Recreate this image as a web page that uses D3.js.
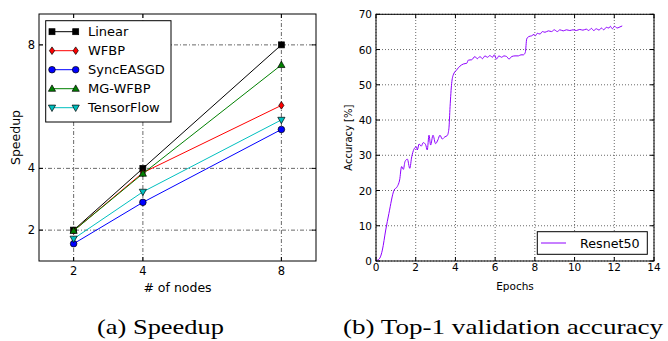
<!DOCTYPE html>
<html>
<head>
<meta charset="utf-8">
<script src="https://cdn.jsdelivr.net/npm/d3@7"></script>
<style>
  html, body { margin: 0; padding: 0; background: white; }
  svg { display: block; }
  text { font-family: "DejaVu Sans", sans-serif; fill: black; }
  text.caption { font-family: "Liberation Serif", serif; }
</style>
</head>
<body>
<div id="chart"></div>
<script>
// (a) speedup data
const nodes = [2, 4, 8];
const seriesNames = ["Linear", "WFBP", "SyncEASGD", "MG-WFBP", "TensorFlow"];
const linear = [2, 4, 8];
const wfbp = [1.98, 3.86, 6.04];
const syncEasgd = [1.56, 2.9, 5.26];
const mgWfbp = [1.98, 3.83, 7.35];
const tensorflow = [1.72, 3.24, 5.57];
const speedTicks = [2, 4, 8];

// (b) validation accuracy data
const epochs = [0.05, 0.19, 0.32, 0.49, 0.65, 0.91, 1.07, 1.19, 1.29, 1.38, 1.46, 1.58, 1.70, 1.80, 1.91,
  2.03, 2.08, 2.17, 2.28, 2.38, 2.50, 2.58, 2.67, 2.75, 2.87, 3.00, 3.12, 3.22, 3.34, 3.46, 3.59,
  3.67, 3.73, 3.81, 3.89, 4.06, 4.23, 4.40, 4.57, 4.65, 4.82, 4.98, 5.10, 5.24, 5.36, 5.49, 5.61,
  5.74, 5.86, 5.96, 6.07, 6.19, 6.33, 6.44, 6.58, 6.70, 6.83, 7.00, 7.17, 7.30, 7.42, 7.52, 7.59,
  7.70, 7.84, 7.96, 8.03, 8.12, 8.26, 8.38, 8.51, 8.68, 8.84, 8.98, 9.13, 9.26, 9.43, 9.59, 9.76,
  9.92, 10.09, 10.26, 10.42, 10.59, 10.71, 10.85, 10.96, 11.10, 11.23, 11.35, 11.47, 11.60, 11.73,
  11.80, 11.90, 12.02, 12.14, 12.24, 12.40];
const accuracy = [0.2, 0.8, 3.1, 8.8, 13.5, 20.1, 21.1, 23.0, 26.8, 26.0, 28.2, 28.9, 26.3, 29.6, 31.7,
  32.4, 31.5, 33.2, 32.6, 33.6, 33.0, 31.5, 35.7, 32.9, 35.7, 33.3, 34.4, 35.7, 34.6, 35.2, 35.6,
  37.5, 43.8, 50.4, 52.8, 54.2, 55.3, 55.9, 56.1, 57.0, 57.1, 58.0, 57.4, 58.0, 57.4, 58.2, 57.8,
  58.3, 57.8, 58.5, 57.3, 58.2, 57.8, 58.2, 58.0, 57.3, 58.0, 58.2, 58.2, 58.5, 58.5, 59.2, 63.0,
  63.7, 63.9, 64.3, 63.9, 64.6, 64.4, 65.1, 64.9, 65.3, 65.1, 65.6, 65.1, 65.6, 65.3, 65.6, 65.4,
  65.6, 65.4, 65.7, 65.5, 65.8, 65.4, 66.0, 65.4, 65.9, 65.5, 66.1, 65.6, 66.3, 66.1,
  66.6, 65.9, 66.6, 66.1, 66.3, 66.7];
const epochTicks = [0, 2, 4, 6, 8, 10, 12, 14];
const accTicks = [0, 10, 20, 30, 40, 50, 60, 70];

const W = 668, H = 341;
const svg = d3.select("#chart").append("svg").attr("width", W).attr("height", H);

// ---------- helpers ----------
function frame(g, x, y, xt, yt, gridDash) {
  const [x0, x1] = x.range(), [y0, y1] = y.range();
  // grid
  g.selectAll(null).data(xt).join("line")
    .attr("x1", d => x(d)).attr("x2", d => x(d)).attr("y1", y0).attr("y2", y1)
    .attr("stroke", "#444").attr("stroke-width", 0.8).attr("stroke-dasharray", gridDash);
  g.selectAll(null).data(yt).join("line")
    .attr("y1", d => y(d)).attr("y2", d => y(d)).attr("x1", x0).attr("x2", x1)
    .attr("stroke", "#444").attr("stroke-width", 0.8).attr("stroke-dasharray", gridDash);
  // inward ticks, all four sides
  const t = 4;
  xt.forEach(d => {
    g.append("line").attr("x1", x(d)).attr("x2", x(d)).attr("y1", y0).attr("y2", y0 - t).attr("stroke", "black");
    g.append("line").attr("x1", x(d)).attr("x2", x(d)).attr("y1", y1).attr("y2", y1 + t).attr("stroke", "black");
  });
  yt.forEach(d => {
    g.append("line").attr("y1", y(d)).attr("y2", y(d)).attr("x1", x0).attr("x2", x0 + t).attr("stroke", "black");
    g.append("line").attr("y1", y(d)).attr("y2", y(d)).attr("x1", x1).attr("x2", x1 - t).attr("stroke", "black");
  });
}

function border(g, x, y) {
  const [x0, x1] = x.range(), [y0, y1] = y.range();
  g.append("rect").attr("x", x0).attr("y", y1).attr("width", x1 - x0).attr("height", y0 - y1)
    .attr("fill", "none").attr("stroke", "black").attr("stroke-width", 1);
}

function marker(g, kind, cx, cy, fill) {
  let el;
  if (kind === "s") {
    el = g.append("rect").attr("x", cx - 3).attr("y", cy - 3).attr("width", 6).attr("height", 6);
  } else if (kind === "o") {
    el = g.append("circle").attr("cx", cx).attr("cy", cy).attr("r", 3.3);
  } else if (kind === "d") {
    el = g.append("path").attr("d", `M${cx},${cy - 3.8}L${cx + 2.6},${cy}L${cx},${cy + 3.8}L${cx - 2.6},${cy}Z`);
  } else if (kind === "^") {
    el = g.append("path").attr("d", `M${cx},${cy - 3.8}L${cx + 3.6},${cy + 2.6}L${cx - 3.6},${cy + 2.6}Z`);
  } else {
    el = g.append("path").attr("d", `M${cx},${cy + 3.8}L${cx + 3.6},${cy - 2.6}L${cx - 3.6},${cy - 2.6}Z`);
  }
  el.attr("fill", fill).attr("stroke", "black").attr("stroke-width", 0.7);
}

// ---------- (a) Speedup ----------
const ga = svg.append("g");
const xa = d3.scaleLinear().domain([1, 9]).range([39, 316]);
const ya = d3.scaleLinear().domain([1, 9]).range([261, 14]);
frame(ga, xa, ya, speedTicks, speedTicks, "4,2,1,2");

const series = [
  { name: seriesNames[0], vals: linear, color: "#000000", m: "s" },
  { name: seriesNames[1], vals: wfbp, color: "#ff0000", m: "d" },
  { name: seriesNames[2], vals: syncEasgd, color: "#0000ff", m: "o" },
  { name: seriesNames[3], vals: mgWfbp, color: "#008000", m: "^" },
  { name: seriesNames[4], vals: tensorflow, color: "#00bfbf", m: "v" }
];
const lineA = d3.line().x((d, i) => xa(nodes[i])).y(d => ya(d));
series.forEach(s => {
  ga.append("path").attr("d", lineA(s.vals)).attr("fill", "none")
    .attr("stroke", s.color).attr("stroke-width", 1);
  s.vals.forEach((v, i) => marker(ga, s.m, xa(nodes[i]), ya(v), s.color));
});
border(ga, xa, ya);

ga.selectAll(null).data(speedTicks).join("text")
  .attr("x", d => xa(d)).attr("y", 271).attr("text-anchor", "middle")
  .attr("dominant-baseline", "central").attr("font-size", 11.5).text(d => d);
ga.selectAll(null).data(speedTicks).join("text")
  .attr("x", 35).attr("y", d => ya(d)).attr("text-anchor", "end")
  .attr("dominant-baseline", "central").attr("font-size", 11.5).text(d => d);
ga.append("text").attr("x", xa(5)).attr("y", 287).attr("text-anchor", "middle")
  .attr("dominant-baseline", "central").attr("font-size", 12.5).text("# of nodes");
ga.append("text").attr("transform", `translate(15,${ya(5)}) rotate(-90)`).attr("text-anchor", "middle")
  .attr("dominant-baseline", "central").attr("font-size", 12.5).text("Speedup");

// legend (a)
const lg = ga.append("g");
lg.append("rect").attr("x", 45.7).attr("y", 20.7).attr("width", 125.3).attr("height", 101.3)
  .attr("fill", "white").attr("stroke", "black").attr("stroke-width", 1);
series.forEach((s, i) => {
  const yy = 31.7 + i * 19;
  lg.append("line").attr("x1", 52).attr("x2", 75.7).attr("y1", yy).attr("y2", yy)
    .attr("stroke", s.color).attr("stroke-width", 1);
  marker(lg, s.m, 52, yy, s.color);
  marker(lg, s.m, 75.7, yy, s.color);
  lg.append("text").attr("x", 88).attr("y", yy).attr("dominant-baseline", "central")
    .attr("font-size", 13).text(s.name);
});

// ---------- (b) Accuracy ----------
const gb = svg.append("g");
const xb = d3.scaleLinear().domain([0, 14]).range([376, 654]);
const yb = d3.scaleLinear().domain([0, 70]).range([261, 14.3]);
frame(gb, xb, yb, epochTicks, accTicks, "1,2");
const purple = "#8f00ff";
const lineB = d3.line().x((d, i) => xb(epochs[i])).y(d => yb(d)).curve(d3.curveMonotoneX);
gb.append("path").attr("d", lineB(accuracy)).attr("fill", "none")
  .attr("stroke", purple).attr("stroke-width", 1);
border(gb, xb, yb);

gb.selectAll(null).data(epochTicks).join("text")
  .attr("x", d => xb(d)).attr("y", 267).attr("text-anchor", "middle")
  .attr("dominant-baseline", "central").attr("font-size", 10.5).text(d => d);
gb.selectAll(null).data(accTicks).join("text")
  .attr("x", 372).attr("y", d => yb(d)).attr("text-anchor", "end")
  .attr("dominant-baseline", "central").attr("font-size", 10.5).text(d => d);
gb.append("text").attr("x", xb(7)).attr("y", 286).attr("text-anchor", "middle")
  .attr("dominant-baseline", "central").attr("font-size", 10.5).text("Epochs");
gb.append("text").attr("transform", `translate(348,${yb(35)}) rotate(-90)`).attr("text-anchor", "middle")
  .attr("dominant-baseline", "central").attr("font-size", 10).text("Accuracy [%]");

gb.append("rect").attr("x", 537.3).attr("y", 231.7).attr("width", 110).attr("height", 22.6)
  .attr("fill", "white").attr("stroke", "black").attr("stroke-width", 1);
gb.append("line").attr("x1", 541).attr("x2", 566).attr("y1", 243).attr("y2", 243)
  .attr("stroke", purple).attr("stroke-width", 1);
gb.append("text").attr("x", 580).attr("y", 243).attr("dominant-baseline", "central")
  .attr("font-size", 12.7).text("Resnet50");

// ---------- captions ----------
svg.append("text").attr("class", "caption").attr("x", 97).attr("y", 334)
  .attr("font-size", 22).attr("textLength", 127).attr("lengthAdjust", "spacingAndGlyphs").text("(a) Speedup");
svg.append("text").attr("class", "caption").attr("x", 343).attr("y", 334)
  .attr("font-size", 22).attr("textLength", 320).attr("lengthAdjust", "spacingAndGlyphs").text("(b) Top-1 validation accuracy");
</script>
</body>
</html>
